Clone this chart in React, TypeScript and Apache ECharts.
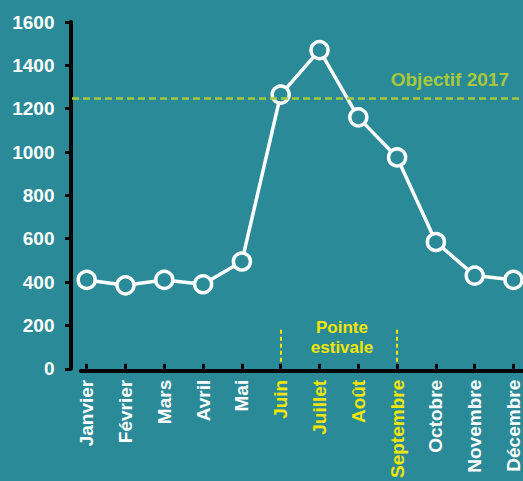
import React, { useEffect, useRef } from 'react';
import * as echarts from 'echarts';

const months = ['Janvier', 'Février', 'Mars', 'Avril', 'Mai', 'Juin', 'Juillet', 'Août', 'Septembre', 'Octobre', 'Novembre', 'Décembre'];
const visitors = [410, 385, 410, 390, 495, 1265, 1470, 1160, 975, 585, 430, 410];
const summerMonths = ['Juin', 'Juillet', 'Août', 'Septembre'];
const objectiveValue = 1250;
const objectiveLabel = 'Objectif 2017';
const peakLabel = 'Pointe\nestivale';
const peakStart = 'Juin';
const peakEnd = 'Septembre';
const yMin = 0;
const yMax = 1600;
const yStep = 200;

const BG = '#2b8a98';
const WHITE = '#ffffff';
const YELLOW = '#f2e500';
const GREEN = '#a6c83a';
const FONT = 'Liberation Sans, Arial, sans-serif';

export default function App() {
  const ref = useRef<HTMLDivElement>(null);
  useEffect(() => {
    if (!ref.current) return;
    const chart = echarts.init(ref.current, null, { renderer: 'svg' });
    const top = 22;
    const bottom = 110;
    chart.setOption({
      animation: false,
      backgroundColor: BG,
      grid: [
        { left: 86.7, right: 6, top, bottom },
        { left: 80.8, right: 0, top, bottom },
      ],
      xAxis: [
        {
          type: 'category',
          gridIndex: 0,
          data: months,
          boundaryGap: false,
          axisLine: { show: false },
          axisTick: { show: true, inside: true, length: 5, interval: 0, lineStyle: { color: '#000', width: 3 } },
          axisLabel: {
            interval: 0,
            rotate: 90,
            margin: 11,
            fontFamily: FONT,
            fontWeight: 'bold',
            fontSize: 19,
            color: (v: string) => (summerMonths.includes(v) ? YELLOW : WHITE),
          },
          splitLine: { show: false },
        },
        {
          type: 'value',
          gridIndex: 1,
          min: 0,
          max: 1,
          axisLine: { show: true, onZero: false, lineStyle: { color: '#000', width: 4 } },
          axisTick: { show: false },
          axisLabel: { show: false },
          splitLine: { show: false },
        },
      ],
      yAxis: [
        {
          type: 'value',
          gridIndex: 0,
          min: yMin,
          max: yMax,
          interval: yStep,
          offset: 16.2,
          axisLine: { show: true, lineStyle: { color: '#000', width: 4 } },
          axisTick: { show: true, length: 5.5, lineStyle: { color: '#000', width: 3 } },
          axisLabel: {
            margin: 16,
            fontFamily: FONT,
            fontWeight: 'bold',
            fontSize: 19,
            color: WHITE,
            formatter: (v: number) => String(v),
          },
          splitLine: { show: false },
        },
        { type: 'value', gridIndex: 1, min: 0, max: 1, show: false },
      ],
      series: [
        {
          type: 'line',
          xAxisIndex: 0,
          yAxisIndex: 0,
          data: [],
          z: 1,
          silent: true,
          markLine: {
            silent: true,
            symbol: ['none', 'none'],
            animation: false,
            data: [
              [
                {
                  x: 72,
                  yAxis: objectiveValue,
                  lineStyle: { color: GREEN, width: 2.5, type: [7, 4] },
                  label: {
                    show: true,
                    formatter: objectiveLabel,
                    position: 'insideEndTop',
                    distance: [14, 9],
                    color: GREEN,
                    fontFamily: FONT,
                    fontWeight: 'bold',
                    fontSize: 19,
                  },
                },
                { x: 523, yAxis: objectiveValue },
              ],
              [
                { xAxis: peakStart, yAxis: 180, lineStyle: { color: YELLOW, width: 2, type: [4, 3] }, label: { show: false } },
                { xAxis: peakStart, yAxis: 33 },
              ],
              [
                { xAxis: peakEnd, yAxis: 180, lineStyle: { color: YELLOW, width: 2, type: [4, 3] }, label: { show: false } },
                { xAxis: peakEnd, yAxis: 33 },
              ],
            ],
          },
        },
        {
          type: 'line',
          xAxisIndex: 0,
          yAxisIndex: 0,
          data: visitors,
          z: 3,
          symbol: 'circle',
          symbolSize: 17,
          showAllSymbol: true,
          lineStyle: { color: WHITE, width: 3.5 },
          itemStyle: { color: BG, borderColor: WHITE, borderWidth: 3.5 },
          emphasis: { disabled: true },
        },
      ],
      graphic: [
        {
          type: 'text',
          x: 342,
          y: 337.5,
          style: {
            text: peakLabel,
            align: 'center',
            verticalAlign: 'middle',
            fill: YELLOW,
            font: `bold 17px ${FONT}`,
            lineHeight: 20,
          },
        },
      ],
    });
    return () => chart.dispose();
  }, []);
  return <div ref={ref} style={{ position: 'fixed', left: 0, top: 0, width: 523, height: 481 }} />;
}
